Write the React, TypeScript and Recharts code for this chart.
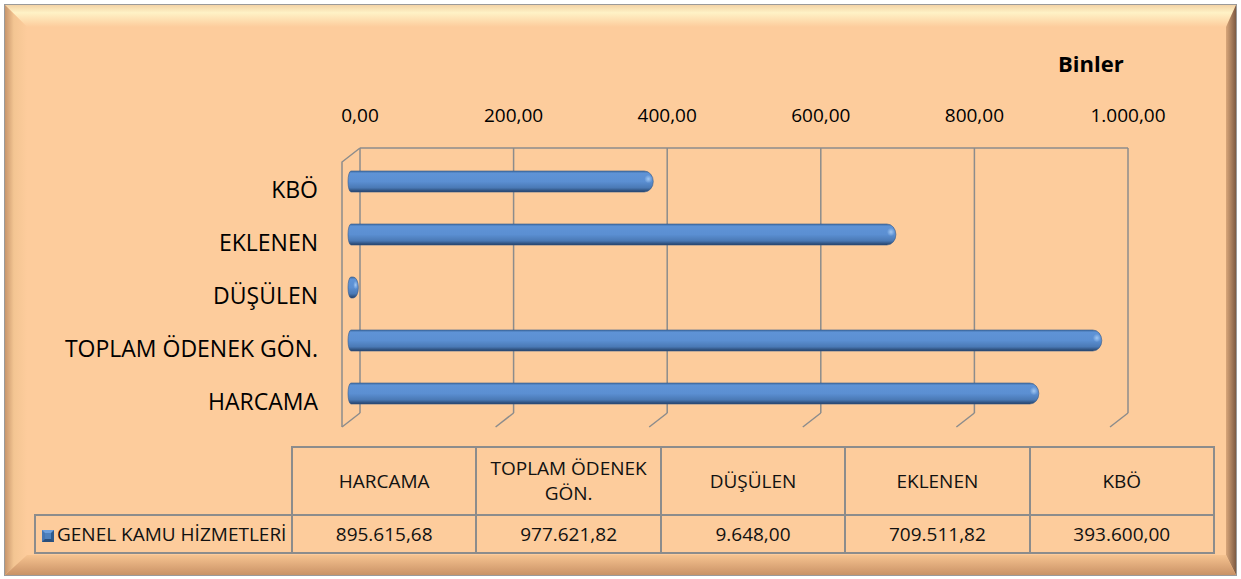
import React from 'react';
import { BarChart, Bar, XAxis, YAxis, CartesianGrid } from 'recharts';

// chart values, in table order (Excel draws the first category at the bottom)
const categories = ['HARCAMA', 'TOPLAM ÖDENEK GÖN.', 'DÜŞÜLEN', 'EKLENEN', 'KBÖ'];
const genelKamuHizmetleri = [895615.68, 977621.82, 9648.0, 709511.82, 393600.0];
const axisTicks = [0, 200, 400, 600, 800, 1000];
const seriesName = 'GENEL KAMU HİZMETLERİ';
const unitLabel = 'Binler';

// values are plotted in thousands ("Binler")
const chartData = categories.map((name, i) => ({ name, value: genelKamuHizmetleri[i] / 1000 }));

const FONT = "'Open Sans', sans-serif";
const GRID = '#8c8c8c';
const FACE = '#fdcc9c';
const PLOT_H = 265;
const TICK_GAP = 26;

// Turkish number format: 1.000,00
const formatTr = (n: number) => {
  const [int, dec] = Math.abs(n).toFixed(2).split('.');
  const grouped = int.replace(/\B(?=(\d{3})+(?!\d))/g, '.');
  return `${n < 0 ? '-' : ''}${grouped},${dec}`;
};

// cylinder-like bar, nudged onto the middle of the 3D depth
const CylinderBar = (props: any) => {
  const { x, y, width, height } = props;
  if (x == null || width == null) return null;
  const x0 = x - 12;
  const yy = y + 7;
  const x1 = x0 + width + 3;
  const ry = height / 2;
  const rr = Math.min(9, (x1 - x0) / 2);
  const rl = Math.min(3, (x1 - x0) / 2);
  const d = `M${x0 + rl},${yy} H${x1 - rr} A${rr},${ry} 0 0 1 ${x1 - rr},${yy + height} H${x0 + rl} A${rl},${ry} 0 0 1 ${x0 + rl},${yy} Z`;
  return (
    <g>
      <path d={d} fill="url(#barGrad)" stroke="#34598a" strokeWidth={0.6} />
      <ellipse cx={x1 - rr * 0.55} cy={yy + height * 0.38} rx={rr * 0.45} ry={height * 0.2} fill="url(#capGlow)" />
    </g>
  );
};

// value label on top, plus the slanted floor mark under each gridline
// and the front-left edge of the 3D box
const ValueTick = (props: any) => {
  const { x, y, payload } = props;
  const top = y + TICK_GAP;
  const floor = top + PLOT_H;
  return (
    <g>
      <text x={x} y={y} textAnchor="middle" fontSize={19} fontFamily={FONT} fill="#000">
        {formatTr(payload.value)}
      </text>
      <g stroke={GRID} strokeWidth={1.5} fill="none">
        <line x1={x} y1={floor} x2={x - 18} y2={floor + 14} />
        {payload.value === 0 && (
          <polyline points={`${x},${top} ${x - 18},${top + 14} ${x - 18},${floor + 14}`} />
        )}
      </g>
    </g>
  );
};

const CategoryTick = (props: any) => {
  const { x, y, payload } = props;
  return (
    <text x={x} y={y} dy={23} textAnchor="end" fontSize={23} fontFamily={FONT} fill="#000">
      {payload.value}
    </text>
  );
};

const Frame = () => (
  <svg width={1241} height={579} style={{ position: 'absolute', left: 0, top: 0 }}>
    <defs>
      <linearGradient id="bvTop" x1="0" y1="0" x2="0" y2="1">
        <stop offset="0" stopColor="#f3d3a6" />
        <stop offset="0.35" stopColor="#fff2c6" />
        <stop offset="1" stopColor={FACE} />
      </linearGradient>
      <linearGradient id="bvLeft" x1="0" y1="0" x2="1" y2="0">
        <stop offset="0" stopColor="#c8966c" />
        <stop offset="0.4" stopColor="#f3c592" />
        <stop offset="1" stopColor={FACE} />
      </linearGradient>
      <linearGradient id="bvRight" x1="0" y1="0" x2="1" y2="0">
        <stop offset="0" stopColor="#d8a67a" />
        <stop offset="1" stopColor="#7d5a42" />
      </linearGradient>
      <linearGradient id="bvBottom" x1="0" y1="0" x2="0" y2="1">
        <stop offset="0" stopColor="#f6c390" />
        <stop offset="1" stopColor="#c99266" />
      </linearGradient>
    </defs>
    <rect x={4.5} y={4.5} width={1232} height={571} fill={FACE} stroke="#9a9a9a" />
    <polygon points="5,5 1236,5 1226,27 27,27" fill="url(#bvTop)" />
    <polygon points="5,5 27,27 27,555 5,575" fill="url(#bvLeft)" />
    <polygon points="1236,5 1236,575 1226,555 1226,27" fill="url(#bvRight)" />
    <polygon points="5,575 27,555 1226,555 1236,575" fill="url(#bvBottom)" />
  </svg>
);

const cellBorder = `2px solid ${GRID}`;

const DataTable = () => {
  const colW = 184.4;
  const firstW = 257;
  const cell: React.CSSProperties = {
    border: cellBorder,
    textAlign: 'center',
    verticalAlign: 'middle',
    fontSize: 19,
    lineHeight: 1.3,
    color: '#111',
    padding: '0 4px',
    boxSizing: 'border-box',
  };
  return (
    <table
      style={{
        position: 'absolute',
        left: 34,
        top: 446,
        borderCollapse: 'collapse',
        tableLayout: 'fixed',
        width: firstW + colW * 5,
        fontFamily: FONT,
      }}
    >
      <colgroup>
        <col style={{ width: firstW }} />
        {categories.map((c) => (
          <col key={c} style={{ width: colW }} />
        ))}
      </colgroup>
      <tbody>
        <tr style={{ height: 68 }}>
          <td style={{ border: 'none', borderRight: cellBorder, borderBottom: cellBorder, padding: 0 }} />
          {categories.map((c) => (
            <td key={c} style={cell}>{c}</td>
          ))}
        </tr>
        <tr style={{ height: 38 }}>
          <td style={{ ...cell, textAlign: 'left', padding: '0 0 0 6px', whiteSpace: 'nowrap' }}>
            <span
              style={{
                display: 'inline-block',
                width: 6,
                height: 6,
                borderStyle: 'solid',
                borderWidth: 3,
                borderColor: '#6d9fdc #2d5a8e #2a4f7c #4676b2',
                background: '#4f81bd',
                marginRight: 3,
                verticalAlign: -1,
              }}
            />
            {seriesName}
          </td>
          {genelKamuHizmetleri.map((v, i) => (
            <td key={i} style={cell}>{formatTr(v)}</td>
          ))}
        </tr>
      </tbody>
    </table>
  );
};

export default function App() {
  return (
    <div style={{ position: 'absolute', left: 0, top: 0, width: 1241, height: 579, fontFamily: FONT }}>
      <Frame />
      <div
        style={{
          position: 'absolute',
          left: 1058,
          top: 52,
          fontSize: 22,
          lineHeight: '22px',
          fontWeight: 700,
          color: '#000',
        }}
      >
        {unitLabel}
      </div>
      <div style={{ position: 'absolute', left: 0, top: 0 }}>
        <BarChart
          width={1241}
          height={440}
          data={chartData}
          layout="vertical"
          margin={{ top: 80, right: 113, bottom: 27, left: 0 }}
          barSize={21}
        >
          <defs>
            <linearGradient id="barGrad" x1="0" y1="0" x2="0" y2="1">
              <stop offset="0" stopColor="#4271a9" />
              <stop offset="0.12" stopColor="#5f93d6" />
              <stop offset="0.5" stopColor="#5b8fd2" />
              <stop offset="0.8" stopColor="#4a79b5" />
              <stop offset="1" stopColor="#233f66" />
            </linearGradient>
            <radialGradient id="capGlow">
              <stop offset="0" stopColor="#a9cdf5" stopOpacity={0.9} />
              <stop offset="1" stopColor="#a9cdf5" stopOpacity={0} />
            </radialGradient>
          </defs>
          <CartesianGrid horizontal={false} stroke={GRID} strokeWidth={1.5} />
          <XAxis
            type="number"
            orientation="top"
            domain={[0, 1000]}
            ticks={axisTicks}
            interval={0}
            height={68}
            tickSize={0}
            tickMargin={TICK_GAP}
            tickLine={false}
            axisLine={{ stroke: GRID, strokeWidth: 1.5 }}
            tick={<ValueTick />}
          />
          <YAxis
            type="category"
            dataKey="name"
            reversed
            width={360}
            tickSize={0}
            tickMargin={42}
            tickLine={false}
            axisLine={false}
            tick={<CategoryTick />}
          />
          <Bar dataKey="value" name={seriesName} isAnimationActive={false} shape={<CylinderBar />} />
        </BarChart>
      </div>
      <DataTable />
    </div>
  );
}
